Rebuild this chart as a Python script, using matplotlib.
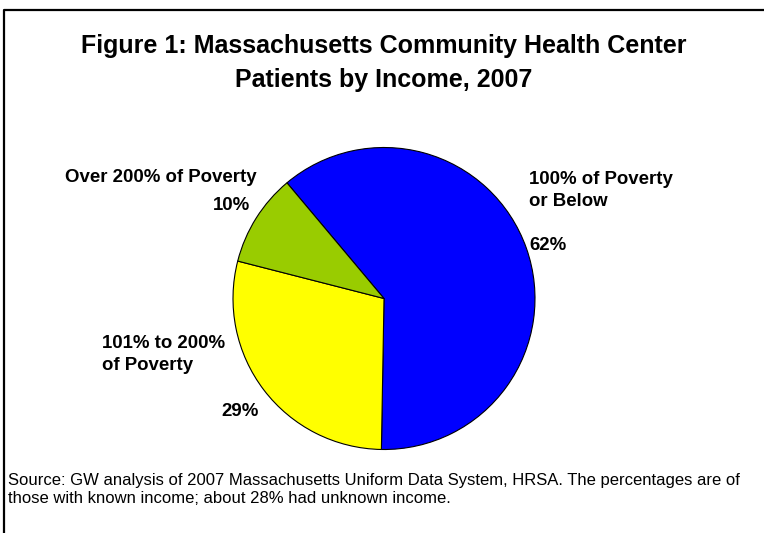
import matplotlib
matplotlib.use('Agg')
import matplotlib.pyplot as plt

# Datos del gráfico
categorias = ['100% of Poverty\nor Below', '101% to 200%\nof Poverty', 'Over 200% of Poverty']
porcentajes = [62, 29, 10]
colores = ['#0000FF', '#FFFF00', '#99CC00']
titulo = 'Figure 1: Massachusetts Community Health Center\nPatients by Income, 2007'
fuente = ('Source: GW analysis of 2007 Massachusetts Uniform Data System, HRSA. The percentages are of\n'
          'those with known income; about 28% had unknown income.')

plt.rcParams['font.family'] = ['Liberation Sans', 'DejaVu Sans']

W, H = 764, 533
fig = plt.figure(figsize=(W / 100, H / 100), dpi=100)
ax = fig.add_axes([0, 0, 1, 1])


def lineas(x, y0, texto, paso, va='center', **kw):
    # Escribe cada línea por separado para controlar el interlineado
    for i, linea in enumerate(texto.split('\n')):
        ax.text(x, H - (y0 + i * paso), linea, va=va, **kw)


# Pastel
ax.pie(porcentajes, colors=colores, startangle=130, counterclock=False,
       center=(384, H - 298.5), radius=151, frame=True,
       wedgeprops=dict(edgecolor='black', linewidth=0.8))
ax.set_xlim(0, W)
ax.set_ylim(0, H)
ax.set_aspect('auto')
ax.axis('off')

# Marco (solo arriba e izquierda)
ax.plot([4, 4, W], [0, H - 10, H - 10], color='black', lw=1.6, solid_capstyle='butt')

lineas(383.5, 53, titulo, 34, va='baseline', ha='center', fontsize=18, fontweight='bold')

# Etiquetas
fs = 13.4
lineas(529, 179, categorias[0], 23, ha='left', fontsize=fs, fontweight='bold')
lineas(529, 246, f'{porcentajes[0]}%', 0, ha='left', fontsize=fs, fontweight='bold')

lineas(102, 344, categorias[1], 22, ha='left', fontsize=fs, fontweight='bold')
lineas(221, 412, f'{porcentajes[1]}%', 0, ha='left', fontsize=fs, fontweight='bold')

lineas(257, 178, categorias[2], 0, ha='right', fontsize=fs, fontweight='bold')
lineas(250, 206, f'{porcentajes[2]}%', 0, ha='right', fontsize=fs, fontweight='bold')

lineas(8, 485, fuente, 18, va='baseline', ha='left', fontsize=12)

fig.savefig('out.png', dpi=100)
